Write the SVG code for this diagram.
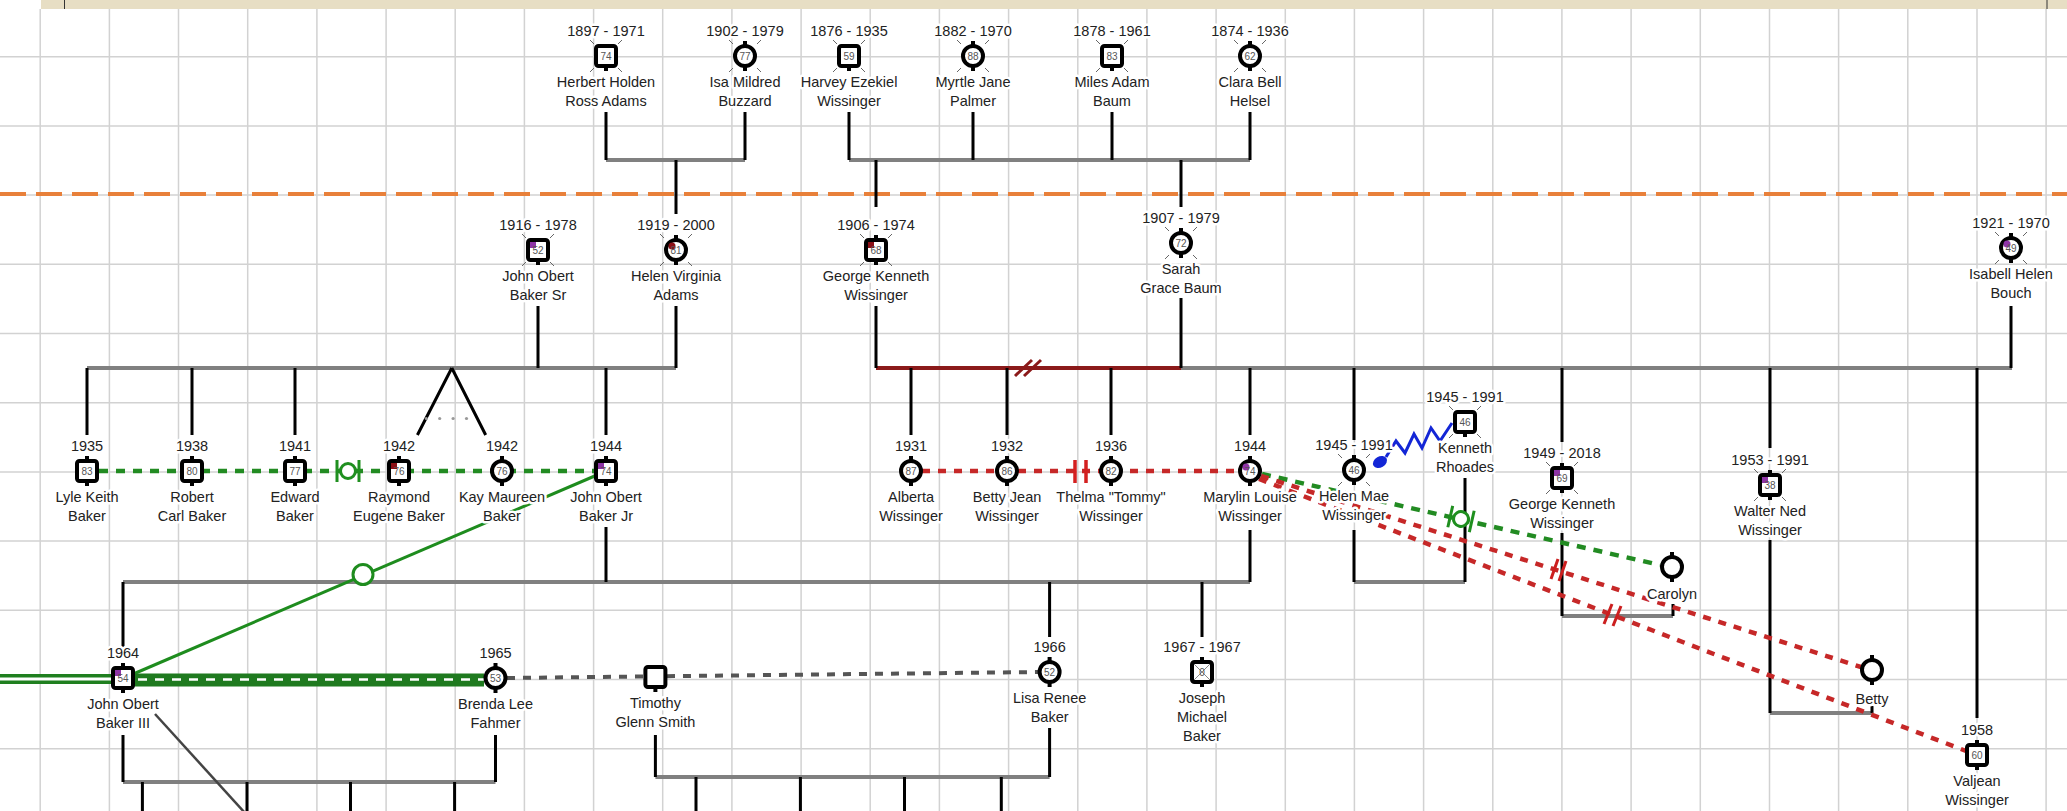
<svg xmlns="http://www.w3.org/2000/svg" xmlns:xlink="http://www.w3.org/1999/xlink" width="2067" height="811" viewBox="0 0 2067 811">
<style>
.t{font-family:"Liberation Sans",Arial,sans-serif;font-size:14.5px;fill:#222;text-anchor:middle;paint-order:stroke;stroke:#fff;stroke-width:5px;stroke-linejoin:round}
.n{font-family:"Liberation Sans",Arial,sans-serif;font-size:10px;fill:#555;text-anchor:middle}
.fam{stroke:#808080;stroke-width:4;fill:none}
.v{stroke:#000;stroke-width:3;fill:none}
.gd{stroke:#228b22;stroke-width:4.5;stroke-dasharray:9 8;fill:none}
.rd{stroke:#c62828;stroke-width:4.5;stroke-dasharray:8 8;fill:none}
.mk{stroke:#cc1f1f;stroke-width:3;fill:none}
</style>
<defs>
<g id="sq"><rect x="-10" y="-10" width="20" height="20" rx="2.5" fill="#fff" stroke="#000" stroke-width="4"/><rect x="-2" y="11" width="4" height="4"/></g>
<g id="ci"><circle r="10" fill="#fff" stroke="#000" stroke-width="4"/><rect x="-2" y="11" width="4" height="4"/><rect x="-2" y="-15" width="4" height="4"/></g>
<rect id="st" x="-2" y="-15" width="4" height="4"/>
<path id="tk" d="M-12-12l-4-4M12-12l4-4M-12 12l-4 4M12 12l4 4" stroke="#666" stroke-width="1"/>
<rect id="pq" x="-8" y="-8" width="6" height="6" fill="#8e34a6"/>
<rect id="rq" x="-8" y="-8" width="6" height="6" fill="#8b1016"/>
<circle id="pc" cx="-4" cy="-4" r="3.5" fill="#8e34a6"/>
<circle id="rc" cx="-4" cy="-4" r="3.5" fill="#8b1016"/>
<g id="gsym" stroke="#1f8f1f" stroke-width="3"><path d="M-11-11v22M11-11v22" fill="none"/><circle r="7.5" fill="#fff"/></g>
</defs>

<rect width="2067" height="811" fill="#fff"/>
<rect x="41" y="0" width="2026" height="9" fill="#e7dec4"/>
<path d="M64.5 0V9M2047 0V9" stroke="#333" stroke-width="1"/>

<g id="grid" stroke="#d2d2d2" stroke-width="1.5">
<path d="M40.2 9V811M109.4 9V811M178.5 9V811M247.7 9V811M316.9 9V811M386.1 9V811M455.2 9V811M524.4 9V811M593.6 9V811M662.7 9V811M731.9 9V811M801.1 9V811M870.2 9V811M939.4 9V811M1008.6 9V811M1077.8 9V811M1146.9 9V811M1216.1 9V811M1285.3 9V811M1354.4 9V811M1423.6 9V811M1492.8 9V811M1561.9 9V811M1631.1 9V811M1700.3 9V811M1769.5 9V811M1838.6 9V811M1907.8 9V811M1977 9V811M2046.1 9V811"/>
<path d="M0 56.7H2067M0 125.9H2067M0 195.1H2067M0 264.3H2067M0 333.5H2067M0 402.7H2067M0 471.9H2067M0 541.1H2067M0 610.3H2067M0 679.5H2067M0 748.7H2067"/>
</g>
<line x1="0" y1="194" x2="2067" y2="194" stroke="#e8803a" stroke-width="4" stroke-dasharray="26 10"/>

<g id="connectors">
<path class="fam" d="M606 160H745M849 160H1250M87 368H676M1181 368H2012M123 582H1250M1354 582H1465M1562 616H1673M1770 713H1872M123 782H495.5M655.4 777H1049.6"/>
<path d="M876 368H1181" stroke="#8b1a1a" stroke-width="4"/>
<path d="M1015 376L1032 360M1024 376L1041 360" stroke="#8b1a1a" stroke-width="3"/>
<path class="v" d="M606 112V160M745 112V160M849 112V160M973 112V160M1112 112V160M1250 112V160M676 160V214M876 160V207M1181 160V207"/>
<path class="v" d="M538 306V368M676 306V368M876 306V368M1181 298V368M2011 306V368"/>
<path class="v" d="M87 368V435M192 368V435M295 368V435M606 368V435M451.8 368L417.4 435M451.8 368L485.7 435"/>
<path class="v" d="M911 368V435M1007 368V435M1111 368V435M1250 368V435M1354 368V440M1562 368V442M1770 368V448M1977 368V718"/>
<path class="v" d="M606 527V582M1250 530V582M1354 530V582M1465 478V582M1562 533V616M1673 604V616M1770 540V713M1872 706V713"/>
<path class="v" d="M123 582V647M1049.6 582V637M1202 582V637"/>
<path class="v" d="M123 735V782M495.5 735V782M655.4 735V777M1049.6 728V777"/>
<path class="v" d="M142.4 782V811M247 782V811M350.5 782V811M454.6 782V811M696 777V811M800.4 777V811M904.5 777V811M1001.3 777V811"/>
<line x1="155" y1="714" x2="245" y2="813" stroke="#444" stroke-width="2.5"/>
<g fill="#999"><circle cx="426.3" cy="418.5" r="1.6"/><circle cx="439.7" cy="418.5" r="1.6"/><circle cx="453.1" cy="418.5" r="1.6"/><circle cx="466.5" cy="418.5" r="1.6"/></g>
<path class="gd" d="M99 471H594"/>
<use href="#gsym" x="348" y="471"/>
<line x1="597" y1="475" x2="131" y2="675" stroke="#1e8c1e" stroke-width="3"/>
<circle cx="363" cy="574.5" r="10" fill="#fff" stroke="#1e8c1e" stroke-width="3"/>
<path class="rd" d="M922 471H1238"/>
<path d="M1075 460V483M1086 460V483" stroke="#d42020" stroke-width="3.5"/>
<path class="gd" d="M1262 474L1660 565"/>
<path class="rd" d="M1261 476L1861 667"/>
<path class="rd" d="M1259 479L1966 751"/>
<g transform="translate(1461 519) rotate(12.8)"><use href="#gsym"/></g>
<path class="mk" d="M1551 579L1558 559M1559 581L1566 561M1604 624L1612 604M1613 626L1621 606"/>
<ellipse cx="1380" cy="462" rx="7.5" ry="5.5" transform="rotate(-30 1380 462)" fill="#1326d6"/>
<polyline points="1386,457 1396,441 1405,453 1414,434 1422,448 1431,428 1440,441 1452,423" fill="none" stroke="#1326d6" stroke-width="3"/>
<path d="M0 679H112" stroke="#1f7f1f" stroke-width="10"/>
<path d="M0 679H112" stroke="#fff" stroke-width="3"/>
<path d="M134 680H484" stroke="#1f7a1f" stroke-width="13"/>
<path d="M138 679.5H484" stroke="#fff" stroke-width="2.5" stroke-dasharray="9 8"/>
<path d="M507 678L1039 672" stroke="#555" stroke-width="4" stroke-dasharray="8 8"/>
</g>

<g id="n-herbert" transform="translate(606,56)"><use href="#tk"/><use href="#sq"/><text class="n" y="3.5">74</text><text class="t" y="-20">1897 - 1971</text><text class="t" y="31">Herbert Holden</text><text class="t" y="50">Ross Adams</text></g>
<g id="n-isa" transform="translate(745,56)"><use href="#tk"/><use href="#ci"/><text class="n" y="3.5">77</text><text class="t" y="-20">1902 - 1979</text><text class="t" y="31">Isa Mildred</text><text class="t" y="50">Buzzard</text></g>
<g id="n-harvey" transform="translate(849,56)"><use href="#tk"/><use href="#sq"/><text class="n" y="3.5">59</text><text class="t" y="-20">1876 - 1935</text><text class="t" y="31">Harvey Ezekiel</text><text class="t" y="50">Wissinger</text></g>
<g id="n-myrtle" transform="translate(973,56)"><use href="#tk"/><use href="#ci"/><text class="n" y="3.5">88</text><text class="t" y="-20">1882 - 1970</text><text class="t" y="31">Myrtle Jane</text><text class="t" y="50">Palmer</text></g>
<g id="n-miles" transform="translate(1112,56)"><use href="#tk"/><use href="#sq"/><text class="n" y="3.5">83</text><text class="t" y="-20">1878 - 1961</text><text class="t" y="31">Miles Adam</text><text class="t" y="50">Baum</text></g>
<g id="n-clara" transform="translate(1250,56)"><use href="#tk"/><use href="#ci"/><text class="n" y="3.5">62</text><text class="t" y="-20">1874 - 1936</text><text class="t" y="31">Clara Bell</text><text class="t" y="50">Helsel</text></g>

<g id="n-bakersr" transform="translate(538,250)"><use href="#tk"/><use href="#sq"/><use href="#pq"/><text class="n" y="3.5">52</text><text class="t" y="-20">1916 - 1978</text><text class="t" y="31">John Obert</text><text class="t" y="50">Baker Sr</text></g>
<g id="n-helenv" transform="translate(676,250)"><use href="#tk"/><use href="#ci"/><use href="#rc"/><text class="n" y="3.5">81</text><text class="t" y="-20">1919 - 2000</text><text class="t" y="31">Helen Virginia</text><text class="t" y="50">Adams</text></g>
<g id="n-georgesr" transform="translate(876,250)"><use href="#tk"/><use href="#sq"/><use href="#st"/><use href="#rq"/><text class="n" y="3.5">68</text><text class="t" y="-20">1906 - 1974</text><text class="t" y="31">George Kenneth</text><text class="t" y="50">Wissinger</text></g>
<g id="n-sarah" transform="translate(1181,243)"><use href="#tk"/><use href="#ci"/><text class="n" y="3.5">72</text><text class="t" y="-20">1907 - 1979</text><text class="t" y="31">Sarah</text><text class="t" y="50">Grace Baum</text></g>
<g id="n-isabell" transform="translate(2011,248)"><use href="#tk"/><use href="#ci"/><use href="#pc"/><text class="n" y="3.5">49</text><text class="t" y="-20">1921 - 1970</text><text class="t" y="31">Isabell Helen</text><text class="t" y="50">Bouch</text></g>

<g id="n-lyle" transform="translate(87,471)"><use href="#sq"/><use href="#st"/><text class="n" y="3.5">83</text><text class="t" y="-20">1935</text><text class="t" y="31">Lyle Keith</text><text class="t" y="50">Baker</text></g>
<g id="n-robert" transform="translate(192,471)"><use href="#sq"/><use href="#st"/><text class="n" y="3.5">80</text><text class="t" y="-20">1938</text><text class="t" y="31">Robert</text><text class="t" y="50">Carl Baker</text></g>
<g id="n-edward" transform="translate(295,471)"><use href="#sq"/><use href="#st"/><text class="n" y="3.5">77</text><text class="t" y="-20">1941</text><text class="t" y="31">Edward</text><text class="t" y="50">Baker</text></g>
<g id="n-raymond" transform="translate(399,471)"><use href="#sq"/><use href="#st"/><use href="#rq"/><text class="n" y="3.5">76</text><text class="t" y="-20">1942</text><text class="t" y="31">Raymond</text><text class="t" y="50">Eugene Baker</text></g>
<g id="n-kay" transform="translate(502,471)"><use href="#ci"/><text class="n" y="3.5">76</text><text class="t" y="-20">1942</text><text class="t" y="31">Kay Maureen</text><text class="t" y="50">Baker</text></g>
<g id="n-johnjr" transform="translate(606,471)"><use href="#sq"/><use href="#st"/><use href="#pq"/><text class="n" y="3.5">74</text><text class="t" y="-20">1944</text><text class="t" y="31">John Obert</text><text class="t" y="50">Baker Jr</text></g>
<g id="n-alberta" transform="translate(911,471)"><use href="#ci"/><text class="n" y="3.5">87</text><text class="t" y="-20">1931</text><text class="t" y="31">Alberta</text><text class="t" y="50">Wissinger</text></g>
<g id="n-bettyjean" transform="translate(1007,471)"><use href="#ci"/><text class="n" y="3.5">86</text><text class="t" y="-20">1932</text><text class="t" y="31">Betty Jean</text><text class="t" y="50">Wissinger</text></g>
<g id="n-thelma" transform="translate(1111,471)"><use href="#ci"/><text class="n" y="3.5">82</text><text class="t" y="-20">1936</text><text class="t" y="31">Thelma "Tommy"</text><text class="t" y="50">Wissinger</text></g>
<g id="n-marylin" transform="translate(1250,471)"><use href="#ci"/><use href="#pc"/><text class="n" y="3.5">74</text><text class="t" y="-20">1944</text><text class="t" y="31">Marylin Louise</text><text class="t" y="50">Wissinger</text></g>
<g id="n-helenmae" transform="translate(1354,470)"><use href="#tk"/><use href="#ci"/><text class="n" y="3.5">46</text><text class="t" y="-20">1945 - 1991</text><text class="t" y="31">Helen Mae</text><text class="t" y="50">Wissinger</text></g>
<g id="n-kenneth" transform="translate(1465,422)"><use href="#tk"/><use href="#sq"/><text class="n" y="3.5">46</text><text class="t" y="-20">1945 - 1991</text><text class="t" y="31">Kenneth</text><text class="t" y="50">Rhoades</text></g>
<g id="n-georgejr" transform="translate(1562,478)"><use href="#tk"/><use href="#sq"/><use href="#st"/><use href="#pq"/><text class="n" y="3.5">69</text><text class="t" y="-20">1949 - 2018</text><text class="t" y="31">George Kenneth</text><text class="t" y="50">Wissinger</text></g>
<g id="n-walter" transform="translate(1770,485)"><use href="#tk"/><use href="#sq"/><use href="#st"/><use href="#pq"/><text class="n" y="3.5">38</text><text class="t" y="-20">1953 - 1991</text><text class="t" y="31">Walter Ned</text><text class="t" y="50">Wissinger</text></g>
<g id="n-carolyn" transform="translate(1672,567)"><use href="#ci"/><text class="t" y="32">Carolyn</text></g>
<g id="n-betty" transform="translate(1872,670)"><use href="#ci"/><text class="t" y="34">Betty</text></g>
<g id="n-valjean" transform="translate(1977,755)"><use href="#sq"/><use href="#st"/><text class="n" y="3.5">60</text><text class="t" y="-20">1958</text><text class="t" y="31">Valjean</text><text class="t" y="50">Wissinger</text></g>

<g id="n-johniii" transform="translate(123,678)"><use href="#sq"/><use href="#st"/><use href="#pq"/><text class="n" y="3.5">54</text><text class="t" y="-20">1964</text><text class="t" y="31">John Obert</text><text class="t" y="50">Baker III</text></g>
<g id="n-brenda" transform="translate(495.5,678)"><use href="#ci"/><text class="n" y="3.5">53</text><text class="t" y="-20">1965</text><text class="t" y="31">Brenda Lee</text><text class="t" y="50">Fahmer</text></g>
<g id="n-timothy" transform="translate(655.4,677)"><use href="#sq"/><text class="t" y="31">Timothy</text><text class="t" y="50">Glenn Smith</text></g>
<g id="n-lisa" transform="translate(1049.6,672)"><use href="#ci"/><text class="n" y="3.5">52</text><text class="t" y="-20">1966</text><text class="t" y="31">Lisa Renee</text><text class="t" y="50">Baker</text></g>
<g id="n-joseph" transform="translate(1202,672)"><use href="#sq"/><use href="#st"/><path d="M-8-8L8 8M8-8L-8 8" stroke="#888" stroke-width="1"/><text class="n" y="3.5">0</text><text class="t" y="-20">1967 - 1967</text><text class="t" y="31">Joseph</text><text class="t" y="50">Michael</text><text class="t" y="69">Baker</text></g>
</svg>
